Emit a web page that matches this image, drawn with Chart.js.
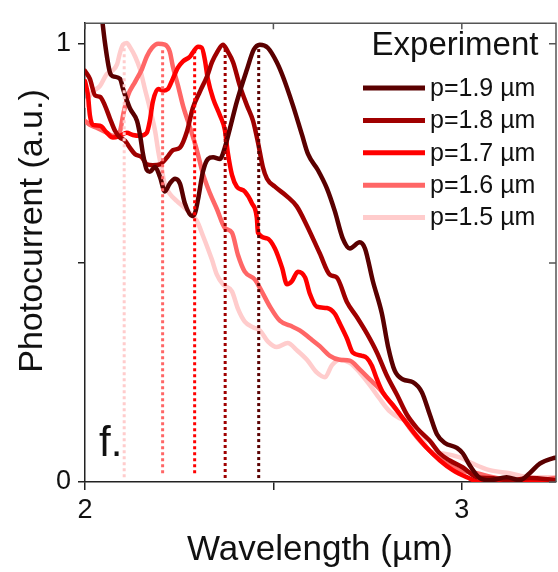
<!DOCTYPE html>
<html>
<head>
<meta charset="utf-8">
<script src="https://cdn.jsdelivr.net/npm/chart.js@4.4.1/dist/chart.umd.min.js"></script>
<style>
body { margin: 0; background: #fff; }
</style>
</head>
<body>
<canvas id="chart" width="558" height="572"></canvas>
<script>
var seriesLabels = ["p=1.9 µm", "p=1.8 µm", "p=1.7 µm", "p=1.6 µm", "p=1.5 µm"];
var seriesColors = ["#5a0000", "#a00000", "#ff0000", "#ff6666", "#ffcccc"];

var wl19 = [2.040,2.053,2.066,2.074,2.093,2.101,2.119,2.138,2.146,2.154,2.164,2.172,2.186,2.199,2.212,2.225,2.239,2.252,2.265,2.284,2.292,2.300,2.313,2.326,2.340,2.358,2.371,2.385,2.403,2.430,2.448,2.464,2.485,2.509,2.525,2.552,2.576,2.592,2.618,2.642,2.663,2.684,2.703,2.729,2.743,2.764,2.788,2.804,2.822,2.844,2.870,2.894,2.915,2.934,2.955,2.987,3.003,3.021,3.048,3.074,3.119,3.154,3.180,3.207,3.241,3.252];
var pc19 = [1.098,1.002,0.935,0.926,0.920,0.897,0.853,0.824,0.792,0.748,0.712,0.708,0.719,0.696,0.663,0.681,0.692,0.681,0.636,0.607,0.614,0.645,0.708,0.737,0.741,0.737,0.763,0.808,0.868,0.942,0.987,0.998,0.991,0.958,0.926,0.859,0.792,0.748,0.712,0.670,0.618,0.556,0.533,0.547,0.533,0.458,0.384,0.310,0.254,0.234,0.228,0.205,0.154,0.109,0.089,0.078,0.065,0.038,0.009,0.004,0.011,0.004,0.020,0.042,0.054,0.056];

var wl18 = [2.000,2.013,2.027,2.040,2.053,2.066,2.080,2.093,2.106,2.119,2.133,2.151,2.164,2.180,2.199,2.218,2.233,2.252,2.271,2.286,2.305,2.324,2.337,2.350,2.366,2.379,2.393,2.411,2.430,2.446,2.459,2.472,2.483,2.504,2.536,2.562,2.589,2.623,2.650,2.668,2.695,2.721,2.748,2.775,2.801,2.828,2.854,2.881,2.915,2.942,2.968,3.003,3.040,3.074,3.127,3.180,3.252];
var pc18 = [0.938,0.920,0.882,0.879,0.859,0.830,0.801,0.786,0.779,0.763,0.748,0.741,0.725,0.723,0.725,0.741,0.757,0.763,0.801,0.853,0.891,0.926,0.958,0.980,0.998,0.982,0.958,0.904,0.859,0.824,0.775,0.719,0.692,0.674,0.652,0.629,0.585,0.522,0.473,0.467,0.411,0.377,0.339,0.295,0.243,0.199,0.154,0.123,0.094,0.065,0.049,0.033,0.011,0.009,0.004,0.009,0.004];

var wl17 = [2.000,2.008,2.013,2.021,2.040,2.058,2.074,2.093,2.111,2.127,2.146,2.164,2.172,2.180,2.194,2.207,2.220,2.233,2.247,2.260,2.279,2.289,2.300,2.310,2.318,2.326,2.340,2.358,2.371,2.379,2.390,2.403,2.424,2.443,2.456,2.459,2.483,2.504,2.523,2.536,2.549,2.565,2.584,2.597,2.615,2.642,2.663,2.676,2.695,2.711,2.735,2.748,2.761,2.775,2.790,2.817,2.844,2.870,2.907,2.942,2.976,3.013,3.048,3.101,3.180,3.252];
var pc17 = [0.915,0.882,0.837,0.815,0.813,0.797,0.786,0.790,0.797,0.792,0.790,0.797,0.824,0.868,0.897,0.893,0.897,0.920,0.946,0.960,0.971,0.984,0.993,0.991,0.964,0.920,0.875,0.837,0.804,0.752,0.701,0.674,0.663,0.636,0.603,0.569,0.556,0.533,0.489,0.451,0.458,0.480,0.467,0.429,0.400,0.397,0.384,0.362,0.328,0.295,0.288,0.283,0.266,0.234,0.205,0.176,0.145,0.116,0.078,0.049,0.027,0.011,0.000,0.002,0.004,0.002];

var wl16 = [2.000,2.013,2.032,2.058,2.074,2.093,2.101,2.114,2.133,2.151,2.164,2.178,2.194,2.212,2.225,2.233,2.247,2.260,2.279,2.297,2.313,2.332,2.350,2.371,2.390,2.406,2.424,2.451,2.469,2.491,2.517,2.544,2.570,2.597,2.623,2.650,2.676,2.703,2.729,2.756,2.782,2.809,2.836,2.862,2.889,2.923,2.960,2.995,3.040,3.082,3.135,3.188,3.252];
var pc16 = [0.824,0.815,0.808,0.797,0.790,0.801,0.837,0.882,0.913,0.942,0.971,0.991,1.000,0.998,0.982,0.949,0.904,0.859,0.808,0.757,0.703,0.658,0.623,0.580,0.569,0.518,0.480,0.462,0.435,0.400,0.368,0.357,0.346,0.328,0.310,0.288,0.279,0.277,0.257,0.234,0.212,0.183,0.154,0.123,0.094,0.065,0.042,0.027,0.020,0.011,0.004,0.004,0.009];

var wl15 = [2.000,2.008,2.021,2.040,2.058,2.072,2.085,2.093,2.101,2.111,2.119,2.133,2.146,2.159,2.172,2.186,2.194,2.204,2.212,2.225,2.244,2.260,2.279,2.297,2.313,2.326,2.337,2.350,2.366,2.390,2.406,2.424,2.446,2.464,2.485,2.509,2.538,2.562,2.589,2.615,2.637,2.655,2.676,2.703,2.729,2.756,2.782,2.809,2.836,2.862,2.889,2.915,2.950,2.995,3.029,3.074,3.127,3.180,3.252];
var pc15 = [0.859,0.875,0.891,0.904,0.931,0.938,0.953,0.980,0.998,1.002,0.993,0.971,0.942,0.897,0.853,0.801,0.757,0.712,0.679,0.658,0.641,0.629,0.614,0.596,0.562,0.533,0.507,0.473,0.451,0.435,0.395,0.366,0.353,0.346,0.321,0.308,0.317,0.301,0.279,0.250,0.239,0.266,0.279,0.272,0.250,0.221,0.190,0.161,0.145,0.138,0.109,0.071,0.065,0.056,0.042,0.027,0.020,0.011,0.011];

// peak markers (dotted verticals)
var peakWl = [2.461, 2.372, 2.291, 2.206, 2.104];
var peakTop = [0.99, 0.99, 0.99, 0.99, 0.99];
var peakBottom = [0.009, 0.009, 0.02, 0.02, 0.011];

var xTicks = [2, 2.5, 3];
var xTickLabels = ["2", "", "3"];
var yTicks = [0, 0.5, 1];
var yTickLabels = ["0", "", "1"];

var allWl = [wl19, wl18, wl17, wl16, wl15];
var allPc = [pc19, pc18, pc17, pc16, pc15];

function zip(xs, ys) {
    var out = [];
    for (var i = 0; i < Math.min(xs.length, ys.length); i++) out.push({x: xs[i], y: ys[i]});
    return out;
}

var datasets = [];
for (var i = 0; i < peakWl.length; i++) {
    datasets.push({
        data: [{x: peakWl[i], y: peakBottom[i]}, {x: peakWl[i], y: peakTop[i]}],
        borderColor: seriesColors[i],
        borderWidth: 3,
        borderDash: [3, 3],
        pointRadius: 0,
        clip: 0
    });
}
for (var j = 0; j < allWl.length; j++) {
    datasets.push({
        data: zip(allWl[j], allPc[j]),
        borderColor: seriesColors[j],
        borderWidth: 4.5,
        pointRadius: 0,
        cubicInterpolationMode: 'monotone',
        borderCapStyle: 'round',
        borderJoinStyle: 'round',
        clip: 0
    });
}

var FONT = '"Liberation Sans", Arial, sans-serif';

var decor = {
    id: 'decor',
    afterDraw: function (chart) {
        var ctx = chart.ctx, a = chart.chartArea;
        var xs = chart.scales.x, ys = chart.scales.y;
        ctx.save();
        // top / right frame with inward ticks
        ctx.strokeStyle = '#555';
        ctx.lineWidth = 1.5;
        ctx.beginPath();
        ctx.moveTo(a.left, a.top);
        ctx.lineTo(a.right, a.top);
        ctx.lineTo(a.right, a.bottom);
        xTicks.forEach(function (v) {
            var px = xs.getPixelForValue(v);
            ctx.moveTo(px, a.top); ctx.lineTo(px, a.top + 6);
        });
        yTicks.forEach(function (v) {
            var py = ys.getPixelForValue(v);
            ctx.moveTo(a.right, py); ctx.lineTo(a.right - 7, py);
        });
        ctx.stroke();

        // legend
        ctx.fillStyle = '#111';
        ctx.font = '33px ' + FONT;
        ctx.textAlign = 'center';
        ctx.textBaseline = 'alphabetic';
        ctx.fillText('Experiment', 455, 55);
        ctx.font = '25px ' + FONT;
        ctx.textAlign = 'left';
        ctx.textBaseline = 'middle';
        for (var k = 0; k < seriesLabels.length; k++) {
            var ly = 88 + k * 32.4;
            ctx.strokeStyle = seriesColors[k];
            ctx.lineWidth = 5;
            ctx.beginPath();
            ctx.moveTo(363, ly); ctx.lineTo(425, ly);
            ctx.stroke();
            ctx.fillText(seriesLabels[k], 430, ly + 1);
        }

        // panel letter
        ctx.font = '42px ' + FONT;
        ctx.textBaseline = 'alphabetic';
        ctx.fillText('f.', 99, 456);

        // axis titles
        ctx.font = '35px ' + FONT;
        ctx.textAlign = 'center';
        ctx.fillText('Wavelength (µm)', 320, 560);
        ctx.translate(42, 231);
        ctx.rotate(-Math.PI / 2);
        ctx.font = '34px ' + FONT;
        ctx.fillText('Photocurrent (a.u.)', 0, 0);
        ctx.restore();
    }
};

new Chart(document.getElementById('chart'), {
    type: 'line',
    data: { datasets: datasets },
    options: {
        responsive: false,
        animation: false,
        events: [],
        layout: { padding: { top: 13, right: 2, left: 0, bottom: 0 } },
        plugins: { legend: { display: false }, tooltip: { enabled: false } },
        scales: {
            x: {
                type: 'linear',
                min: 2,
                max: 3.25,
                afterFit: function (s) { s.height = 90; },
                afterBuildTicks: function (s) { s.ticks = xTicks.map(function (v) { return {value: v}; }); },
                ticks: {
                    padding: 4,
                    color: '#111',
                    font: { family: FONT, size: 27 },
                    callback: function (v, i) { return xTickLabels[i]; }
                },
                grid: { drawOnChartArea: false, drawTicks: true, tickLength: 8, tickColor: '#222', lineWidth: 1.5 },
                border: { display: true, color: '#222', width: 1.5 }
            },
            y: {
                type: 'linear',
                min: 0,
                max: 1.047,
                afterFit: function (s) { s.width = 85; },
                afterBuildTicks: function (s) { s.ticks = yTicks.map(function (v) { return {value: v}; }); },
                ticks: {
                    padding: 7,
                    color: '#111',
                    font: { family: FONT, size: 27 },
                    callback: function (v, i) { return yTickLabels[i]; }
                },
                grid: { drawOnChartArea: false, drawTicks: true, tickLength: 7, tickColor: '#222', lineWidth: 1.5 },
                border: { display: true, color: '#222', width: 1.5 }
            }
        }
    },
    plugins: [decor]
});
</script>
</body>
</html>
